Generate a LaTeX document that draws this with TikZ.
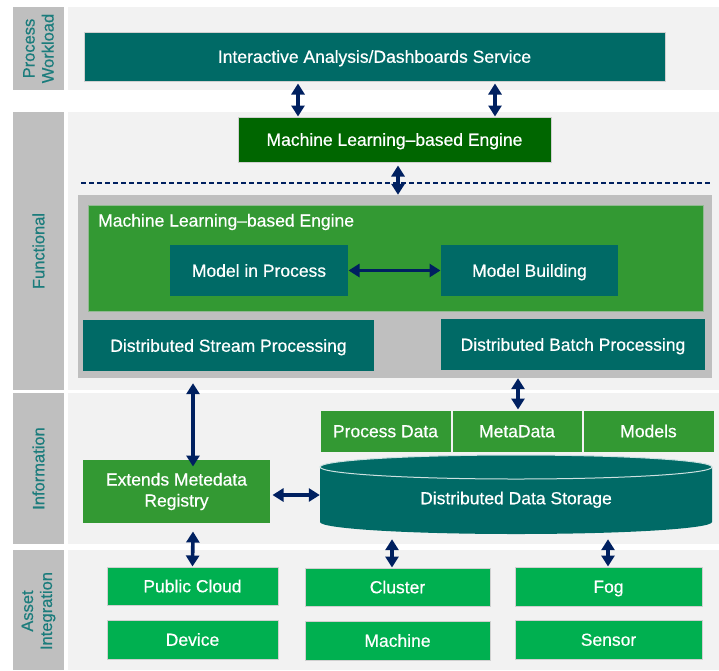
\documentclass[tikz,border=0pt]{standalone}
\usepackage{fontspec}
\setmainfont{Liberation Sans}
\newfontfamily\medfont{Liberation Sans}[FakeBold=0.5]
\usetikzlibrary{arrows.meta}

\definecolor{panelbg}{HTML}{F2F2F2}
\definecolor{lblgray}{HTML}{BFBFBF}
\definecolor{lbltext}{HTML}{1B7C7C}
\definecolor{teal}{HTML}{006A66}
\definecolor{dkgreen}{HTML}{006600}
\definecolor{mdgreen}{HTML}{339933}
\definecolor{brgreen}{HTML}{00B050}
\definecolor{navy}{HTML}{002060}
\definecolor{edge}{HTML}{D0D0D0}

\tikzset{
  lbltxt/.style={text=lbltext, rotate=90, align=center,
    font=\medfont\fontsize{16.5}{19}\selectfont},
  boxfont/.style={font=\medfont\fontsize{17.5}{21}\selectfont},
  box/.style={draw=edge, line width=1pt, text=white, inner sep=0pt,
    align=center, boxfont, text height=13.5pt, text depth=1pt},
  tealbox/.style={box, fill=teal},
  dgbox/.style={box, fill=dkgreen},
  mgbox/.style={box, fill=mdgreen},
  bgbox/.style={box, fill=brgreen},
  darr/.style={draw=navy, line width=3.6pt,
    {Triangle[width=13pt,length=11pt]}-{Triangle[width=13pt,length=11pt]}},
}

\begin{document}
\begin{tikzpicture}[x=1pt, y=-1pt]
\useasboundingbox (0,0) rectangle (719,670);

% layer label column
\fill[lblgray] (13,7) rectangle (64,90);
\fill[lblgray] (13,112) rectangle (64,390);
\fill[lblgray] (13,393) rectangle (64,544);
\fill[lblgray] (13,550) rectangle (64,670);
\node[lbltxt] (lpw) at (38.5,48.5) {Process\\Workload};
\node[lbltxt] (lfn) at (38.5,251) {Functional};
\node[lbltxt] (lin) at (38.5,468.5) {Information};
\node[lbltxt] (lai) at (38.5,611) {Asset\\Integration};

% layer panels
\fill[panelbg] (68,7) rectangle (719,90);
\fill[panelbg] (68,112) rectangle (719,390);
\fill[panelbg] (68,393) rectangle (719,544);
\fill[panelbg] (68,550) rectangle (719,670);

% process workload
\node[tealbox, minimum width=581, minimum height=49] (iads) at (374.5,56.5)
  {Interactive Analysis/Dashboards Service};

% functional layer
\node[dgbox, minimum width=313, minimum height=45] (mltop) at (394.5,139.5)
  {Machine Learning–based Engine};
\coordinate (dl) at (81,183);
\coordinate (dr) at (711,183);
\draw[navy, line width=1.3pt, dash pattern=on 5pt off 3pt] (dl) -- (dr);

\node[fill=lblgray, inner sep=0pt, minimum width=634, minimum height=183] (core) at (395,286.5) {};
\node[mgbox, draw=edge!60!mdgreen, minimum width=615, minimum height=106] (mlbig) at (395.5,258) {};
\node[anchor=west, text=white, boxfont, inner sep=0pt] (mltitle) at (98,222)
  {Machine Learning–based Engine};
\node[tealbox, draw=none, minimum width=178, minimum height=51] (mip) at (259,270.5) {Model in Process};
\node[tealbox, draw=none, minimum width=177, minimum height=51] (mb) at (529.5,270.5) {Model Building};
\node[tealbox, draw=none, minimum width=291, minimum height=51] (dsp) at (228.5,345.5) {Distributed Stream Processing};
\node[tealbox, draw=none, minimum width=264, minimum height=51] (dbp) at (573,344.5) {Distributed Batch Processing};

% information layer
\node[mgbox, draw=panelbg, minimum width=131, minimum height=42] (pdata) at (385.5,431) {Process Data};
\node[mgbox, draw=panelbg, minimum width=130, minimum height=42] (meta) at (517,431) {MetaData};
\node[mgbox, draw=panelbg, minimum width=131, minimum height=42] (models) at (648.5,431) {Models};
\node[mgbox, draw=none, text height=, text depth=, minimum width=187, minimum height=63] (reg) at (176.5,491.5) {Extends Metedata\\Registry};

% storage cylinder
\fill[teal] (320,467) -- (320,522) arc[start angle=180, end angle=0, x radius=196, y radius=12]
  -- (712,467) arc[start angle=0, end angle=-180, x radius=196, y radius=12] -- cycle;
\draw[white!80!teal, line width=1pt] (516,467) ellipse[x radius=196, y radius=12];
\node[text=white, boxfont, text height=13.5pt, text depth=1pt, minimum width=392, minimum height=78, inner sep=0pt] (dds) at (516,498)
  {Distributed Data Storage};

% asset integration
\node[bgbox, minimum width=171, minimum height=38] (pcloud) at (192.5,586) {Public Cloud};
\node[bgbox, minimum width=171, minimum height=39] (device) at (192.5,639.5) {Device};
\node[bgbox, minimum width=185, minimum height=38] (cluster) at (397.5,587) {Cluster};
\node[bgbox, minimum width=185, minimum height=39] (machine) at (397.5,640.5) {Machine};
\node[bgbox, minimum width=187, minimum height=39] (fog) at (608.5,586.5) {Fog};
\node[bgbox, minimum width=187, minimum height=39] (sensor) at (608.5,639.5) {Sensor};

% connectors
\draw[darr] ([xshift=-76.5pt,yshift=-2pt]iads.south) -- ([xshift=-96.5pt]mltop.north);
\draw[darr] ([xshift=120.5pt,yshift=-2pt]iads.south) -- ([xshift=100.5pt]mltop.north);
\draw[darr] ([xshift=3.5pt,yshift=-3pt]mltop.south) -- ([xshift=3pt]core.north);
\draw[darr] (mip.east) -- (mb.west);
\draw[darr] ([xshift=-202pt,yshift=-5pt]core.south) -- ([xshift=16.5pt,yshift=-7pt]reg.north);
\draw[darr] ([xshift=123pt]core.south) -- ([xshift=1pt]meta.north);
\draw[darr] ([xshift=2pt,yshift=-3.5pt]reg.east) -- ([yshift=3pt]dds.west);
\draw[darr] ([xshift=16.5pt,yshift=-8pt]reg.south) -- (pcloud.north);
\draw[darr] ([xshift=-124pt,yshift=-2pt]dds.south) -- ([xshift=-5.5pt]cluster.north);
\draw[darr] ([xshift=92pt,yshift=-2pt]dds.south) -- ([xshift=-0.5pt]fog.north);
\end{tikzpicture}
\end{document}
